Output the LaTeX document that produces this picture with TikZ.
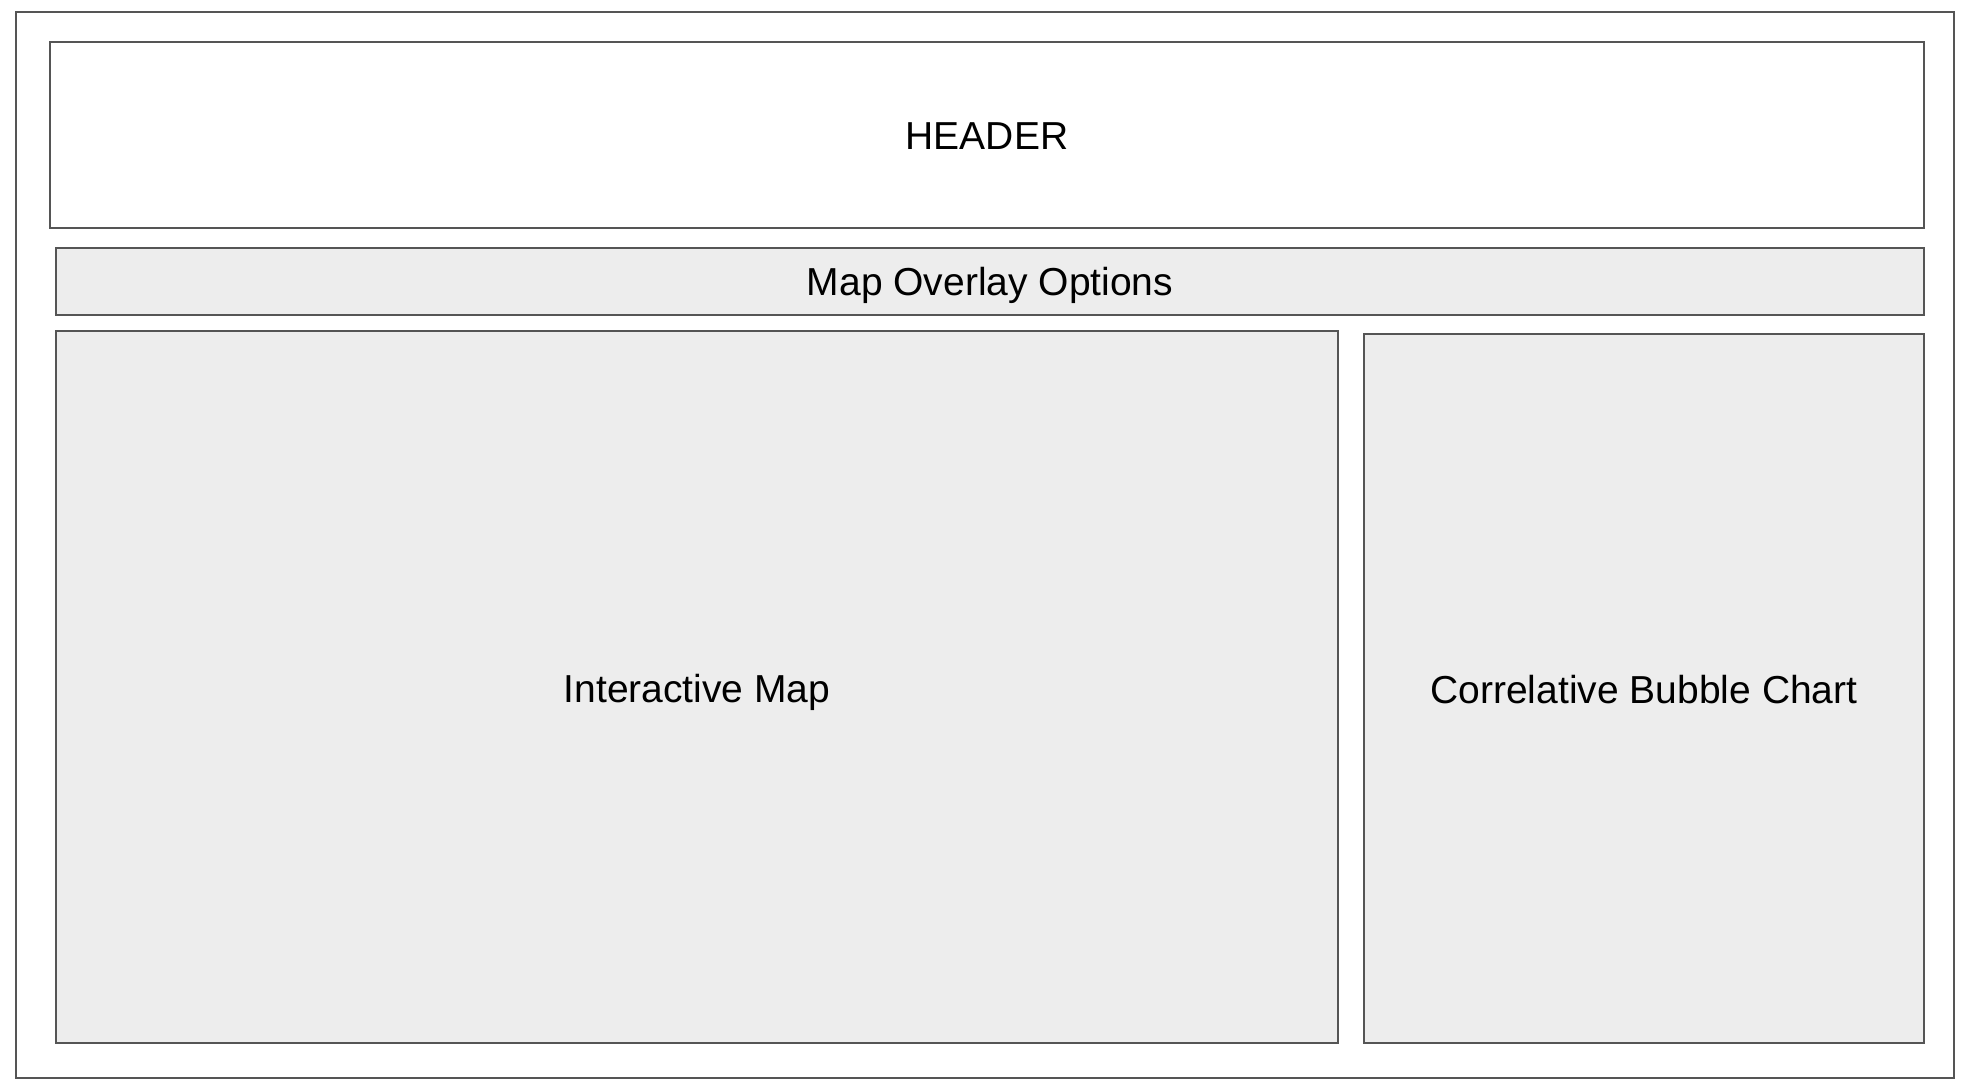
\documentclass[tikz,border=0pt]{standalone}
\usepackage{fontspec}
\setmainfont{Liberation Sans}
\definecolor{edge}{HTML}{555555}
\definecolor{panel}{HTML}{EDEDED}
\begin{document}
\begin{tikzpicture}[x=0.75pt,y=-0.75pt,
  frame/.style={draw=edge,line width=1.1pt,fill=white},
  panelbox/.style={draw=edge,line width=1.1pt,fill=panel},
  lbl/.style={font=\fontsize{29.25pt}{34pt}\selectfont,text=black,inner sep=0pt}]
\useasboundingbox (0,0) rectangle (1970,1092);
\fill[white] (0,0) rectangle (1970,1092);
\draw[frame] (16,12) rectangle (1954,1078);
\draw[frame] (50,42) rectangle (1924,228);
\node[lbl] (header) at (987,136) {HEADER};
\draw[panelbox] (56,248) rectangle (1924,315);
\node[lbl] (overlay) at (990,285) {Map Overlay Options};
\draw[panelbox] (56,331) rectangle (1338,1043);
\node[lbl] (map) at (697,692) {Interactive Map};
\draw[panelbox] (1364,334) rectangle (1924,1043);
\node[lbl] (chart) at (1644,690) {Correlative Bubble Chart};
\end{tikzpicture}
\end{document}
